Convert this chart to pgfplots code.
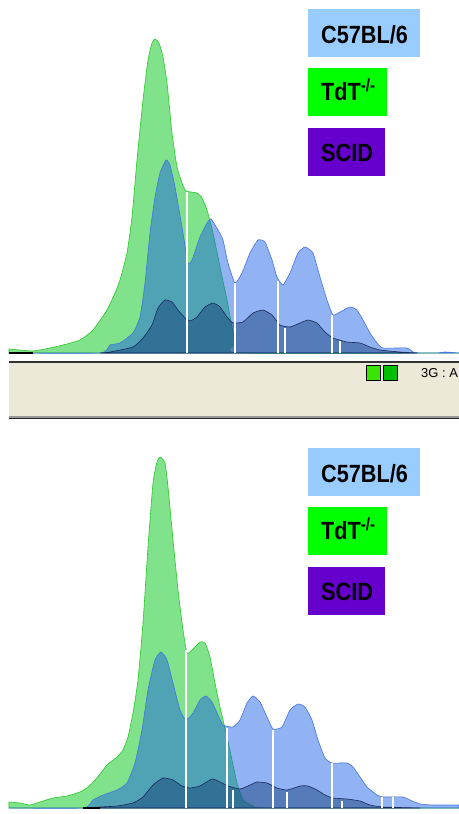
\documentclass[border=0pt]{standalone}
\usepackage{pgfplots}
\pgfplotsset{compat=1.18}
\usepackage{fontspec}
\setmainfont{Liberation Sans}
\definecolor{gfill}{RGB}{128,226,138}
\definecolor{gline}{RGB}{40,200,40}
\definecolor{bfill}{RGB}{25,94,231}
\definecolor{bline}{RGB}{70,115,225}
\definecolor{sfill}{RGB}{15,55,115}
\definecolor{sline}{RGB}{25,40,90}
\definecolor{c57}{RGB}{153,204,255}
\definecolor{tdt}{RGB}{0,255,0}
\definecolor{scid}{RGB}{102,0,204}
\definecolor{xpgray}{RGB}{236,233,216}
\pgfplotsset{
  panel/.style={scale only axis, width=450bp, hide axis, clip=false, xmin=9, xmax=459, ymin=0, anchor=south west},
  gstyle/.style={fill=gfill, draw=gline, line width=0.6pt, smooth, tension=0.3},
  bstyle/.style={fill=bfill, fill opacity=0.47, draw=bline, draw opacity=1, line width=0.6pt, smooth, tension=0.3},
  sstyle/.style={fill=sfill, fill opacity=0.45, draw=sline, draw opacity=1, line width=0.6pt, smooth, tension=0.3},
  sep/.style={white, line width=1.3pt},
}
\newcommand{\lab}[1]{\fontsize{25}{25}\selectfont\bfseries\scalebox{0.87}[1]{#1}}
\begin{document}
\begin{tikzpicture}
\fill[white] (0,0) rectangle (459bp,-814bp);
\path[use as bounding box] (0,0) rectangle (459bp,-814bp);

% ---------------- top panel ----------------
\begin{axis}[panel, height=353bp, ymax=353, at={(9bp,-353bp)}]
\addplot[gstyle] coordinates {(9,4)(20,3)(33,2)(50,5)(63,8)(80,13)(93,23)(107,43)(115,60)(120,73)(127,100)(132,136)(137,193)(143,253)(148,293)(152,310)(155,314)(159,310)(163,296)(167,270)(172,220)(177,186)(182,170)(186,162)(197,160)(202,155)(207,143)(213,120)(220,86)(227,53)(232,26)(235,10)(238,0)(459,0)} \closedcycle;
\addplot[bstyle] coordinates {(9,0)(100,0)(110,8)(120,10)(133,20)(140,36)(145,70)(150,120)(155,156)(160,180)(166,193)(170,188)(175,166)(182,126)(188,90)(192,93)(200,116)(207,130)(211,134)(218,123)(223,113)(228,90)(235,70)(242,80)(250,100)(258,113)(265,111)(272,93)(277,76)(283,68)(290,80)(298,100)(305,106)(313,100)(320,76)(327,53)(333,38)(340,41)(350,46)(357,43)(363,33)(370,20)(377,10)(383,5)(407,5)(413,1)(420,0)(437,0)(445,1)(459,0)} \closedcycle;
\addplot[sstyle] coordinates {(100,0)(110,1)(133,6)(143,15)(152,28)(158,45)(165,53)(172,51)(178,43)(185,35)(190,32)(197,36)(205,46)(213,50)(220,46)(227,36)(233,30)(243,31)(253,40)(263,43)(272,38)(280,28)(290,26)(300,30)(308,33)(317,30)(325,21)(333,15)(347,11)(360,10)(370,6)(380,3)(400,1)(417,0)} \closedcycle;
\addplot[sep] coordinates {(187,0)(187,161)};
\addplot[sep] coordinates {(235,0)(235,70)};
\addplot[sep] coordinates {(278,0)(278,72)};
\addplot[sep] coordinates {(285,0)(285,25)};
\addplot[sep] coordinates {(332,0)(332,38)};
\addplot[sep] coordinates {(340,0)(340,12)};
\addplot[black, line width=1.5pt] coordinates {(9,0)(33,0)};
\end{axis}

% legend boxes top
\fill[c57] (308bp,-9bp) rectangle (420bp,-57bp);
\fill[tdt] (308bp,-68bp) rectangle (387bp,-116bp);
\fill[scid] (308bp,-128bp) rectangle (385bp,-176bp);
\node[anchor=base west, inner sep=0pt] at (321bp,-43bp) {\lab{C57BL/6}};
\node[anchor=base west, inner sep=0pt] at (321bp,-100bp) {\lab{TdT\textsuperscript{-/-}}};
\node[anchor=base west, inner sep=0pt] at (321bp,-161bp) {\lab{SCID}};

% ---------------- separator bar ----------------
\fill[black!80] (9bp,-360.5bp) rectangle (459bp,-362.5bp);
\fill[xpgray] (9bp,-362.5bp) rectangle (459bp,-416bp);
\fill[black!40] (9bp,-416bp) rectangle (459bp,-417.5bp);
\fill[black!85] (9bp,-417.5bp) rectangle (459bp,-419bp);
\filldraw[fill=green!85!black!70!lime, draw=black, line width=0.8pt] (366bp,-365bp) rectangle (380bp,-380bp);
\filldraw[fill=green!75!black, draw=black, line width=0.8pt] (383bp,-365bp) rectangle (397bp,-380bp);
\node[anchor=base west, inner sep=0pt, font=\fontsize{13}{13}\selectfont] at (421bp,-377bp) {3G : A};

% ---------------- bottom panel ----------------
\begin{axis}[panel, height=378bp, ymax=378, at={(9bp,-808bp)}]
\addplot[gstyle] coordinates {(9,6)(20,5)(30,3)(40,6)(53,10)(67,12)(80,16)(88,21)(97,30)(107,43)(117,51)(123,58)(128,71)(133,95)(138,128)(143,185)(148,261)(153,325)(157,346)(160,351)(165,345)(168,321)(173,268)(178,218)(183,178)(187,155)(192,158)(200,166)(205,165)(210,151)(215,125)(220,101)(227,71)(232,48)(237,25)(243,8)(253,2)(267,0)(459,0)} \closedcycle;
\addplot[bstyle] coordinates {(9,0)(83,0)(93,8)(103,13)(117,18)(127,25)(135,45)(142,78)(148,118)(155,148)(161,156)(167,148)(173,125)(180,98)(186,88)(193,95)(200,108)(206,112)(212,106)(218,93)(223,83)(233,81)(240,88)(247,105)(253,112)(260,106)(267,91)(273,79)(282,81)(290,98)(298,104)(305,101)(312,88)(318,68)(325,50)(332,45)(347,45)(353,41)(360,31)(367,21)(377,13)(383,11)(403,11)(410,8)(420,4)(433,3)(459,3)} \closedcycle;
\addplot[sstyle] coordinates {(83,0)(100,1)(117,2)(133,5)(143,11)(153,23)(163,30)(173,28)(182,22)(190,20)(200,22)(212,29)(220,26)(228,22)(240,19)(250,23)(257,26)(267,25)(277,20)(287,18)(300,22)(308,22)(317,18)(325,13)(333,10)(347,9)(360,7)(370,3)(383,1)(420,0)} \closedcycle;
\addplot[sep] coordinates {(186,0)(186,158)};
\addplot[sep] coordinates {(227,0)(227,80)};
\addplot[sep] coordinates {(233,0)(233,18)};
\addplot[sep] coordinates {(273,0)(273,78)};
\addplot[sep] coordinates {(287,0)(287,16)};
\addplot[sep] coordinates {(332,0)(332,45)};
\addplot[sep] coordinates {(342,0)(342,7)};
\addplot[sep] coordinates {(382,0)(382,11)};
\addplot[sep] coordinates {(393,0)(393,11)};
\addplot[black, line width=1.5pt] coordinates {(83,0)(100,0)};
\end{axis}

% legend boxes bottom
\fill[c57] (308bp,-448bp) rectangle (420bp,-496bp);
\fill[tdt] (308bp,-507bp) rectangle (387bp,-555bp);
\fill[scid] (308bp,-567bp) rectangle (385bp,-615bp);
\node[anchor=base west, inner sep=0pt] at (321bp,-482bp) {\lab{C57BL/6}};
\node[anchor=base west, inner sep=0pt] at (321bp,-539bp) {\lab{TdT\textsuperscript{-/-}}};
\node[anchor=base west, inner sep=0pt] at (321bp,-600bp) {\lab{SCID}};
\end{tikzpicture}
\end{document}
